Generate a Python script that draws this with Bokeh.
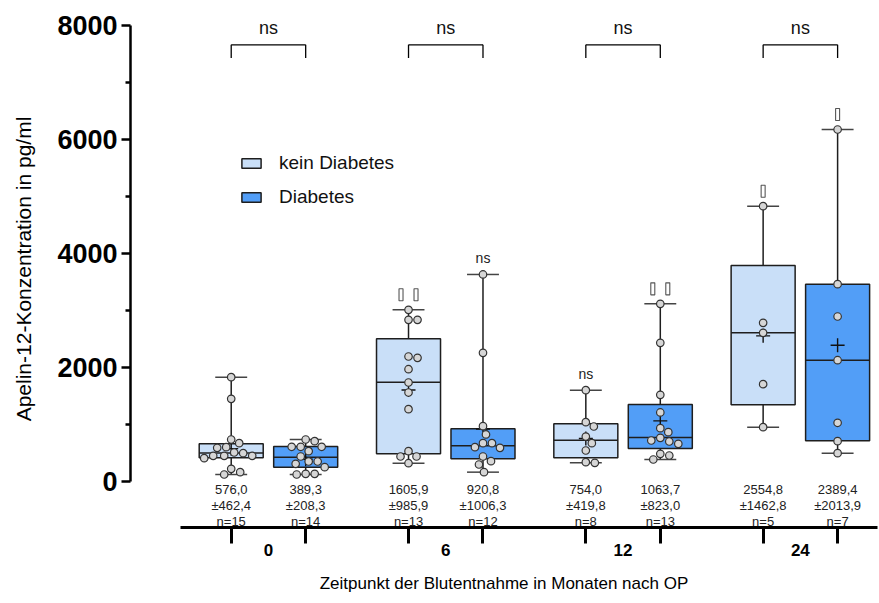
from bokeh.plotting import figure
from bokeh.models import Range1d, FixedTicker, Legend, LegendItem, LinearAxis
from bokeh.core.properties import value
from bokeh.embed import file_html
from bokeh.resources import INLINE

# ---- data -------------------------------------------------------------
months = ["0", "6", "12", "24"]
series = ["kein Diabetes", "Diabetes"]

mean_kein = [576.0, 1605.9, 754.0, 2554.8]
sd_kein = [462.4, 985.9, 419.8, 1462.8]
n_kein = [15, 13, 8, 5]
q1_kein = [416, 486, 416, 1345]
med_kein = [500, 1743, 725, 2608]
q3_kein = [661, 2503, 1012, 3789]
pts_kein = [
    [1830, 1450, 737, 672, 602, 591, 509, 497, 450, 450, 450, 409, 222, 164, 123],
    [3012, 2836, 2836, 2193, 2170, 1970, 1737, 1561, 1269, 532, 439, 439, 321],
    [1602, 1041, 965, 789, 672, 544, 339, 327],
    [4830, 2784, 2608, 1708, 953],
]
ns_kein = ["", "", "ns", ""]
marks_kein = [0, 2, 0, 1]

mean_dia = [389.3, 920.8, 1063.7, 2389.4]
sd_dia = [208.3, 1006.3, 823.0, 2013.9]
n_dia = [14, 12, 13, 7]
q1_dia = [251, 398, 579, 714]
med_dia = [426, 626, 772, 2128]
q3_dia = [614, 924, 1351, 3462]
pts_dia = [
    [737, 707, 609, 609, 609, 532, 439, 351, 351, 310, 251, 135, 135, 123],
    [3632, 2257, 971, 825, 672, 672, 602, 591, 439, 357, 298, 164],
    [3117, 2433, 1521, 1211, 936, 866, 766, 719, 702, 661, 485, 456, 386],
    [6175, 3462, 2895, 2128, 1030, 707, 497],
]
ns_dia = ["", "ns", "", ""]
marks_dia = [0, 0, 2, 1]

pair_sig = ["ns", "ns", "ns", "ns"]

y_ticks = [0, 2000, 4000, 6000, 8000]
y_minor = [1000, 3000, 5000, 7000]

# ---- layout -----------------------------------------------------------
FONT = "Liberation Sans"
W, H = 879, 603
BL, BR, BT, BB = 130, 2, 10, 76
X0, X1 = -0.778, 3.435
Y0, Y1 = -807, 8263
OFF = 0.21          # half distance between the two boxes of a month
BOX_W = 0.361
CAP = 0.09
px_x = (W - BL - BR) / (X1 - X0)
px_y = (H - BT - BB) / (Y1 - Y0)

LIGHT = "#c9dff8"
DARK = "#529ef7"
EDGE = "#1e1e1e"

p = figure(width=W, height=H, output_backend="svg", toolbar_location=None,
           x_range=Range1d(X0, X1), y_range=Range1d(Y0, Y1),
           min_border_left=BL, min_border_right=BR,
           min_border_top=BT, min_border_bottom=BB)
p.outline_line_color = None
p.grid.visible = False
p.background_fill_color = "white"
p.border_fill_color = "white"


def swarm(vals, diam=8.8):
    """Horizontal pixel offsets that keep the dots from overlapping."""
    placed = []
    offs = [0.0] * len(vals)
    order = sorted(range(len(vals)), key=lambda i: -vals[i])
    cands = [0.0]
    for k in range(1, 60):
        cands += [k * 1.0, -k * 1.0]
    for i in order:
        yy = vals[i] * px_y
        for c in cands:
            if all((c - ox) ** 2 + (yy - oy) ** 2 >= diam ** 2 for ox, oy in placed):
                offs[i] = c
                placed.append((c, yy))
                break
    return offs


def draw_series(xs, q1, med, q3, mean, pts, fill):
    lo = [min(v) for v in pts]
    hi = [max(v) for v in pts]
    p.segment(x0=xs, y0=q3, x1=xs, y1=hi, line_color=EDGE, line_width=1.5)
    p.segment(x0=xs, y0=lo, x1=xs, y1=q1, line_color=EDGE, line_width=1.5)
    p.segment(x0=[x - CAP for x in xs], y0=hi, x1=[x + CAP for x in xs], y1=hi,
              line_color="#444444", line_width=1.5)
    p.segment(x0=[x - CAP for x in xs], y0=lo, x1=[x + CAP for x in xs], y1=lo,
              line_color="#444444", line_width=1.5)
    r = p.vbar(x=xs, width=BOX_W, bottom=q1, top=q3, fill_color=fill,
               line_color=EDGE, line_width=1.5)
    p.segment(x0=[x - BOX_W / 2 for x in xs], y0=med, x1=[x + BOX_W / 2 for x in xs],
              y1=med, line_color=EDGE, line_width=1.5)
    p.scatter(x=xs, y=mean, marker="cross", size=14, line_color="#111111",
              line_width=1.4)
    px, py = [], []
    for x, vals in zip(xs, pts):
        for o, v in zip(swarm(vals), vals):
            px.append(x + o / px_x)
            py.append(v)
    p.scatter(x=px, y=py, marker="circle", size=7.5, fill_color="#d6d6d6",
              line_color="#333333", line_width=1.2)
    return r, hi


def stat_labels(xs, mean, sd, n):
    fmt = lambda v: f"{v:.1f}".replace(".", ",")
    rows = [[fmt(m) for m in mean], ["\u00b1" + fmt(s) for s in sd],
            [f"n={k}" for k in n]]
    for j, txt in enumerate(rows):
        p.text(x=xs, y=[0] * len(xs), text=txt, y_offset=8 + 16 * j,
               text_align="center", text_baseline="middle",
               text_font=value(FONT), text_font_size="13px", text_color="#222222")


def box_marks(xs, hi, ns, marks):
    """Small hollow flags and 'ns' notes above the upper whisker."""
    keep = [i for i, s in enumerate(ns) if s]
    p.text(x=[xs[i] for i in keep], y=[hi[i] for i in keep],
           text=[ns[i] for i in keep], y_offset=-8, text_align="center",
           text_baseline="bottom", text_font=value(FONT),
           text_font_size="14px", text_color="#222222")
    mx, my = [], []
    for x, h, k in zip(xs, hi, marks):
        for j in range(k):
            mx.append(x + (j - (k - 1) / 2) * 15 / px_x)
            my.append(h + 15 / px_y)
    p.rect(x=mx, y=my, width=4, height=12, width_units="screen",
           height_units="screen", fill_color="white", line_color="#555555",
           line_width=1.1)


x_kein = [g - OFF for g in range(len(months))]
x_dia = [g + OFF for g in range(len(months))]

r_kein, hi_kein = draw_series(x_kein, q1_kein, med_kein, q3_kein, mean_kein, pts_kein, LIGHT)
r_dia, hi_dia = draw_series(x_dia, q1_dia, med_dia, q3_dia, mean_dia, pts_dia, DARK)

stat_labels(x_kein, mean_kein, sd_kein, n_kein)
stat_labels(x_dia, mean_dia, sd_dia, n_dia)

box_marks(x_kein, hi_kein, ns_kein, marks_kein)
box_marks(x_dia, hi_dia, ns_dia, marks_dia)

# brackets comparing the two groups of each month
BR_Y = 7660
BR_LEG = 230
p.segment(x0=x_kein, y0=[BR_Y] * 4, x1=x_dia, y1=[BR_Y] * 4, line_color="black", line_width=1.3)
p.segment(x0=x_kein, y0=[BR_Y] * 4, x1=x_kein, y1=[BR_Y - BR_LEG] * 4, line_color="black", line_width=1.3)
p.segment(x0=x_dia, y0=[BR_Y] * 4, x1=x_dia, y1=[BR_Y - BR_LEG] * 4, line_color="black", line_width=1.3)
p.text(x=list(range(len(months))), y=[BR_Y] * 4, text=pair_sig, y_offset=-17,
       text_align="center", text_baseline="middle", text_font=value(FONT),
       text_font_size="18px", text_color="#111111")

# ---- axes -------------------------------------------------------------
ya = p.yaxis[0]
ya.ticker = FixedTicker(ticks=y_ticks, minor_ticks=y_minor)
ya.bounds = (0, 8000)
ya.axis_line_width = 2.5
ya.major_tick_line_width = 2.5
ya.minor_tick_line_width = 2.5
ya.major_tick_out = 9
ya.major_tick_in = 0
ya.minor_tick_out = 5
ya.minor_tick_in = 0
ya.major_label_standoff = 4
ya.major_label_text_font = FONT
ya.major_label_text_font_size = "27px"
ya.major_label_text_font_style = "bold"
ya.major_label_text_color = "black"

# bare outer axis that only carries the vertical title
title_axis = LinearAxis(ticker=FixedTicker(ticks=[]), bounds=(420, 8000),
                        axis_line_color=None, major_tick_line_color=None,
                        minor_tick_line_color=None, major_tick_out=0,
                        minor_tick_out=0, major_tick_in=0, minor_tick_in=0,
                        major_label_standoff=0,
                        axis_label="Apelin-12-Konzentration in pg/ml",
                        axis_label_text_font=FONT, axis_label_text_font_size="21px",
                        axis_label_text_font_style="normal",
                        axis_label_text_color="black", axis_label_standoff=20)
p.add_layout(title_axis, "left")

xa = p.xaxis[0]
xa.ticker = FixedTicker(ticks=list(range(len(months))), minor_ticks=x_kein + x_dia)
xa.major_label_overrides = {i: m for i, m in enumerate(months)}
xa.bounds = (-0.496, X1)
xa.axis_line_width = 3
xa.major_tick_out = 0
xa.major_tick_in = 0
xa.minor_tick_out = 16
xa.minor_tick_in = 0
xa.minor_tick_line_width = 3
xa.major_label_standoff = 0
xa.major_label_text_font = FONT
xa.major_label_text_font_size = "17px"
xa.major_label_text_font_style = "bold"
xa.major_label_text_color = "black"
xa.axis_label = "Zeitpunkt der Blutentnahme in Monaten nach OP"
xa.axis_label_text_font = FONT
xa.axis_label_text_font_size = "17px"
xa.axis_label_text_font_style = "normal"
xa.axis_label_text_color = "black"
xa.axis_label_standoff = 15

# ---- legend -----------------------------------------------------------
legend = Legend(items=[LegendItem(label=series[0], renderers=[r_kein]),
                       LegendItem(label=series[1], renderers=[r_dia])],
                location=(109, 319), orientation="vertical",
                glyph_width=24, glyph_height=12, label_standoff=16,
                label_height=20, spacing=12, padding=0, margin=0,
                label_text_font=FONT, label_text_font_size="19px",
                label_text_color="#111111",
                border_line_color=None, background_fill_alpha=0)
p.add_layout(legend)

open("out.html", "w").write(file_html(p, INLINE))
